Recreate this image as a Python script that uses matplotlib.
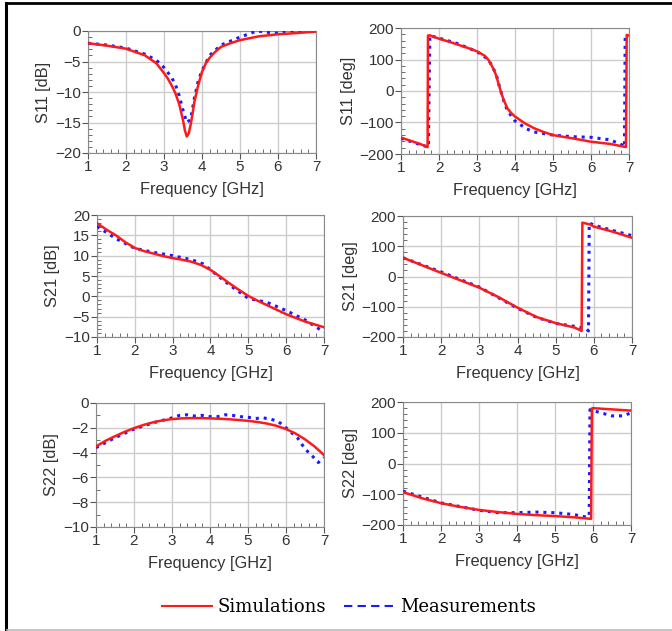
import matplotlib
matplotlib.use('Agg')
import matplotlib.pyplot as plt
from matplotlib.lines import Line2D
from matplotlib.ticker import MultipleLocator

W, H = 672, 631

# S11 [dB]
s11_db_sim_f = [1, 1.5, 2, 2.5, 2.8, 3, 3.1, 3.2, 3.3, 3.4, 3.5, 3.55, 3.6, 3.65, 3.7, 3.75, 3.8, 3.9, 4, 4.1, 4.2, 4.35, 4.5, 4.75, 5, 5.5, 6, 6.5, 7]
s11_db_sim = [-2.0, -2.4, -2.9, -4.0, -5.3, -6.9, -7.8, -8.9, -10.2, -12.0, -14.6, -16.3, -17.3, -16.8, -15.4, -13.6, -11.6, -8.9, -6.7, -5.3, -4.4, -3.4, -2.6, -2.0, -1.5, -0.87, -0.54, -0.33, -0.1]
s11_db_meas_f = [1, 1.5, 2, 2.5, 2.8, 3, 3.2, 3.3, 3.4, 3.5, 3.6, 3.7, 3.8, 3.9, 4, 4.2, 4.5, 5, 5.4, 5.6, 5.8, 6, 6.2, 6.5, 7]
s11_db_meas = [-2.0, -2.3, -2.8, -3.8, -4.8, -6.0, -7.6, -8.8, -10.6, -13.0, -15.0, -14.5, -11.0, -8.2, -6.5, -4.0, -2.3, -1.0, -0.1, -0.05, -0.3, -0.35, -0.05, 0.0, 0.0]

# S11 [deg]
s11_ph_sim_f = [1, 1.3, 1.5, 1.7, 1.71, 1.75, 2, 2.25, 2.5, 2.75, 3, 3.2, 3.3, 3.4, 3.5, 3.6, 3.7, 3.8, 3.9, 4, 4.25, 4.5, 4.75, 5, 5.5, 6, 6.5, 6.92, 6.94, 7]
s11_ph_sim = [-148, -160, -168, -178, 176, 177, 166, 157, 147, 137, 126, 112, 99, 78, 51, 9, -28, -55, -70, -81, -102, -118, -130, -140, -150, -161, -168, -178, 178, 176]
s11_ph_meas_f = [1, 1.3, 1.5, 1.72, 1.76, 2, 2.5, 3, 3.3, 3.5, 3.6, 3.7, 3.8, 4, 4.3, 4.5, 5, 5.5, 6, 6.5, 6.8, 6.88, 6.9, 6.95]
s11_ph_meas = [-150, -162, -170, -178, 176, 168, 150, 125, 100, 55, 10, -30, -62, -95, -120, -130, -140, -145, -147, -155, -170, -178, 178, 180]

# S21 [dB]
s21_db_sim_f = [1, 1.25, 1.5, 1.75, 2, 2.25, 2.5, 2.75, 3, 3.25, 3.5, 3.75, 4, 4.25, 4.5, 4.75, 5, 5.25, 5.5, 5.75, 6, 6.25, 6.5, 6.75, 7]
s21_db_sim = [18.0, 16.4, 15.0, 13.3, 11.9, 11.1, 10.5, 9.9, 9.4, 9.0, 8.5, 7.7, 6.5, 4.9, 3.2, 1.6, 0.1, -1.1, -2.2, -3.3, -4.4, -5.3, -6.2, -6.9, -7.6]
s21_db_meas_f = [1, 1.5, 2, 2.5, 3, 3.5, 3.8, 4, 4.5, 5, 5.5, 6, 6.5, 7]
s21_db_meas = [17.2, 14.2, 11.8, 10.8, 10.0, 9.0, 8.0, 6.5, 2.8, -0.5, -1.5, -3.5, -5.8, -8.8]

# S21 [deg]
s21_ph_sim_f = [1, 2, 3, 3.5, 4, 4.5, 5, 5.5, 5.68, 5.7, 5.9, 6, 6.5, 7]
s21_ph_sim = [62, 12, -37, -68, -103, -134, -154, -169, -180, 178, 172, 165, 148, 128]
s21_ph_meas_f = [1, 2, 3, 4, 4.5, 5, 5.5, 5.8, 5.86, 5.88, 6, 6.5, 7]
s21_ph_meas = [62, 15, -35, -105, -135, -155, -165, -172, -180, 177, 170, 152, 135]

# S22 [dB]
s22_db_sim_f = [1, 1.25, 1.5, 1.75, 2, 2.25, 2.5, 2.75, 3, 3.25, 3.5, 3.75, 4, 4.25, 4.5, 4.75, 5, 5.25, 5.5, 5.75, 6, 6.25, 6.5, 6.75, 7]
s22_db_sim = [-3.5, -3.05, -2.68, -2.33, -2.03, -1.77, -1.56, -1.4, -1.3, -1.24, -1.22, -1.22, -1.24, -1.27, -1.31, -1.37, -1.44, -1.53, -1.66, -1.84, -2.1, -2.46, -2.93, -3.5, -4.2]
s22_db_meas_f = [1, 1.5, 2, 2.5, 3, 3.2, 3.4, 3.6, 3.8, 4, 4.2, 4.4, 4.6, 4.8, 5, 5.2, 5.4, 5.6, 5.8, 6, 6.3, 6.5, 6.7, 6.85, 7]
s22_db_meas = [-3.6, -2.8, -2.1, -1.6, -1.2, -1.0, -0.95, -1.05, -1.0, -1.1, -1.1, -0.95, -1.0, -1.1, -1.15, -1.25, -1.2, -1.3, -1.5, -2.0, -2.8, -3.7, -4.3, -4.8, -4.4]

# S22 [deg]
s22_ph_sim_f = [1, 1.5, 2, 2.5, 3, 3.5, 4, 4.5, 5, 5.5, 5.95, 5.97, 6.0, 7]
s22_ph_sim = [-93, -113, -129, -141, -151, -158, -164, -168, -171, -175, -180, 179, 180, 172]
s22_ph_meas_f = [1, 2, 3, 3.5, 4, 4.5, 5, 5.5, 5.85, 5.9, 5.92, 6.2, 6.5, 6.8, 7]
s22_ph_meas = [-90, -128, -152, -160, -160, -158, -160, -166, -175, -170, 175, 165, 155, 155, 165]

panels = [
    # (left, right, top, bottom) px, ylabel, ylim, major, minor, sim, meas
    ((88, 316, 31, 153), 'S11 [dB]', (-20, 0), 5, 1,
     (s11_db_sim_f, s11_db_sim), (s11_db_meas_f, s11_db_meas)),
    ((401, 629, 28, 154), 'S11 [deg]', (-200, 200), 100, 20,
     (s11_ph_sim_f, s11_ph_sim), (s11_ph_meas_f, s11_ph_meas)),
    ((97, 324, 215, 337), 'S21 [dB]', (-10, 20), 5, 1,
     (s21_db_sim_f, s21_db_sim), (s21_db_meas_f, s21_db_meas)),
    ((403, 632, 216, 337), 'S21 [deg]', (-200, 200), 100, 20,
     (s21_ph_sim_f, s21_ph_sim), (s21_ph_meas_f, s21_ph_meas)),
    ((96, 324, 403, 527), 'S22 [dB]', (-10, 0), 2, 1,
     (s22_db_sim_f, s22_db_sim), (s22_db_meas_f, s22_db_meas)),
    ((403, 631, 402, 525), 'S22 [deg]', (-200, 200), 100, 20,
     (s22_ph_sim_f, s22_ph_sim), (s22_ph_meas_f, s22_ph_meas)),
]

plt.rcParams['font.family'] = ['Liberation Sans', 'DejaVu Sans']
TXT = '#333333'
RED = '#ff1a1a'
BLUE = '#1a1aff'

fig = plt.figure(figsize=(W / 100, H / 100), dpi=100)

for (l, r, t, b), ylab, ylim, major, minor, sim, meas in panels:
    ax = fig.add_axes([l / W, 1 - b / H, (r - l) / W, (b - t) / H])
    ax.plot(meas[0], meas[1], color=BLUE, lw=2.2, ls=(0, (1, 1.6)), zorder=3)
    ax.plot(sim[0], sim[1], color=RED, lw=1.8, zorder=4)
    ax.set_xlim(1, 7)
    ax.set_ylim(*ylim)
    ax.xaxis.set_major_locator(MultipleLocator(1))
    ax.xaxis.set_minor_locator(MultipleLocator(0.2))
    ax.yaxis.set_major_locator(MultipleLocator(major))
    ax.yaxis.set_minor_locator(MultipleLocator(minor))
    ax.grid(True, which='major', color='#cccccc', lw=1)
    ax.set_axisbelow(True)
    for sp in ax.spines.values():
        sp.set_color('#8a8a8a')
    ax.tick_params(which='major', direction='out', length=4, color='#555555',
                   labelsize=11, labelcolor=TXT, pad=1)
    ax.tick_params(which='minor', direction='in', length=3, color='#555555')
    ax.set_xlabel('Frequency [GHz]', fontsize=11.8, color=TXT, labelpad=6)
    ax.set_ylabel(ylab, fontsize=11.8, color=TXT, labelpad=3)

# legend
handles = [Line2D([], [], color=RED, lw=1.5),
           Line2D([], [], color=BLUE, lw=1.5, ls=(0, (4, 2.5)))]
fig.legend(handles, ['Simulations', 'Measurements'], loc='center',
           bbox_to_anchor=(349 / W, 1 - 607 / H), ncol=2, frameon=False,
           prop={'family': 'DejaVu Serif', 'size': 13},
           handlelength=2.8, handletextpad=0.3, columnspacing=1.0)

# frame around the figure
fig.add_artist(Line2D([6 / W, 6 / W], [1 - 3 / H, 1 - 629 / H], color='black', lw=2.2, transform=fig.transFigure))
fig.add_artist(Line2D([6 / W, 1], [1 - 3 / H, 1 - 3 / H], color='black', lw=2, transform=fig.transFigure))
fig.add_artist(Line2D([7 / W, 1], [1 - 629.5 / H, 1 - 629.5 / H], color='#bbbbbb', lw=1.2, transform=fig.transFigure))

fig.savefig('out.png', dpi=100)
